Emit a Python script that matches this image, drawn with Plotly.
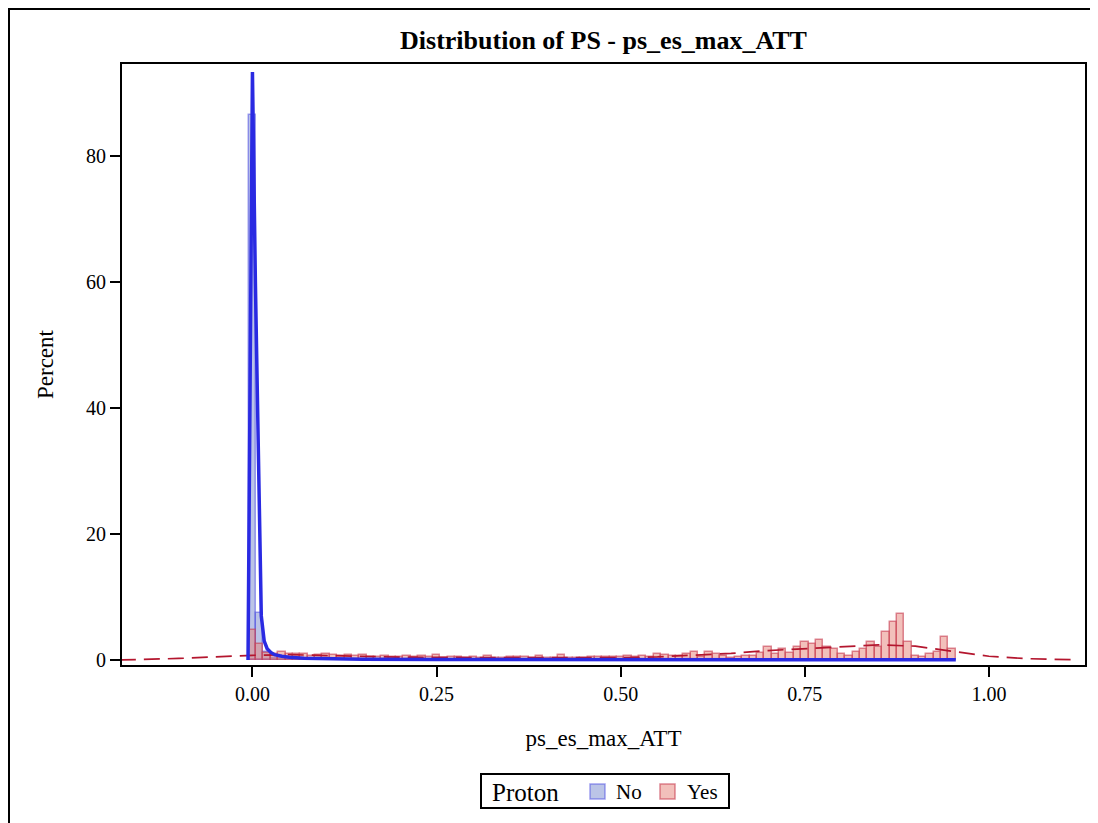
import plotly.graph_objects as go

# Histogram bins (width 0.01, centred on 0.00, 0.01, ... 0.95)
bin_width = 0.01
bin_centers = [round(i * bin_width, 2) for i in range(96)]

# Percent of patients per bin, Proton = No
pct_no = [86.5, 7.5, 1.2, 0.4, 0.3, 0.2, 0.15, 0.1, 0.1, 0.1] + [0.05] * 86

# Percent of patients per bin, Proton = Yes
pct_yes = [4.8, 2.5, 1.1, 0.9, 1.2, 0.9, 1.0, 1.0, 0.7, 0.85,
           0.9, 0.85, 0.7, 0.8, 0.6, 0.8, 0.55, 0.55, 0.6, 0.45,
           0.5, 0.7, 0.5, 0.7, 0.45, 0.8, 0.4, 0.45, 0.45, 0.4,
           0.45, 0.4, 0.6, 0.4, 0.35, 0.55, 0.5, 0.55, 0.4, 0.6,
           0.35, 0.4, 0.8, 0.35, 0.4, 0.3, 0.5, 0.5, 0.45, 0.5,
           0.55, 0.6, 0.55, 0.6, 0.5, 0.95, 0.8, 0.6, 0.6, 0.9,
           1.2, 0.5, 1.3, 0.9, 0.6, 0.4, 0.5, 0.7, 0.7, 1.1,
           2.0, 0.9, 1.7, 1.1, 2.0, 2.8, 2.6, 3.1, 2.1, 1.7,
           0.9, 0.7, 1.3, 1.7, 2.8, 2.1, 4.4, 6.0, 7.3, 2.8,
           0.7, 0.5, 0.9, 1.2, 3.6, 1.7]

# Kernel density, Proton = No
kde_no_x = [-0.006, 0.0, 0.004, 0.008, 0.012, 0.016, 0.02, 0.025, 0.03, 0.04,
            0.05, 0.07, 0.1, 0.15, 0.25, 0.4, 0.6, 0.8, 0.955]
kde_no_y = [0.0, 93.3, 60, 30, 7, 3.0, 1.8, 1.2, 0.85, 0.6,
            0.45, 0.3, 0.2, 0.12, 0.08, 0.05, 0.05, 0.05, 0.05]

# Kernel density, Proton = Yes
kde_yes_x = [-0.18, -0.15, -0.1, -0.05, 0.0, 0.05, 0.1, 0.15, 0.2, 0.3, 0.4, 0.5,
             0.55, 0.6, 0.65, 0.7, 0.75, 0.8, 0.85, 0.9, 0.95, 1.0, 1.05, 1.1, 1.12]
kde_yes_y = [0.0, 0.08, 0.25, 0.5, 0.75, 0.85, 0.75, 0.6, 0.45, 0.4, 0.36, 0.38,
             0.5, 0.75, 1.05, 1.5, 1.8, 2.15, 2.4, 2.2, 1.35, 0.6, 0.22, 0.06, 0.03]

x_ticks = [0.0, 0.25, 0.5, 0.75, 1.0]
x_labels = ["0.00", "0.25", "0.50", "0.75", "1.00"]
y_ticks = [0, 20, 40, 60, 80]

serif = "Liberation Serif, Times New Roman, serif"
no_fill, no_edge = "rgba(120,138,208,0.5)", "rgba(70,70,225,0.5)"
yes_fill, yes_edge = "rgba(230,130,120,0.5)", "rgba(200,60,80,0.6)"

# the page body adds an 8px offset, so everything below is in figure pixels
W, H = 1090, 815
L, R, T, B = 114, 13, 56, 158
pw, ph = W - L - R, H - T - B


def px(x):
    return (x - L) / pw


def py(y):
    return (H - B - y) / ph


fig = go.Figure()

fig.add_trace(go.Bar(x=bin_centers, y=pct_no, width=bin_width, name="No", showlegend=False,
                     marker=dict(color=no_fill, line=dict(color=no_edge, width=1.5))))
fig.add_trace(go.Bar(x=bin_centers, y=pct_yes, width=bin_width, name="Yes", showlegend=False,
                     marker=dict(color=yes_fill, line=dict(color=yes_edge, width=1.5))))
fig.add_trace(go.Scatter(x=kde_yes_x, y=kde_yes_y, mode="lines", showlegend=False,
                         line=dict(color="#b4162e", width=1.7, dash="16px,8px")))
fig.add_trace(go.Scatter(x=kde_no_x, y=kde_no_y, mode="lines", showlegend=False,
                         line=dict(color="#2a2ae2", width=3.5)))

# outer frame round the whole graph
fig.add_shape(type="rect", xref="paper", yref="paper",
              x0=px(1), x1=px(1085), y0=py(900), y1=py(1),
              line=dict(color="black", width=2))

# legend drawn by hand: box, two swatches and labels
fig.add_shape(type="rect", xref="paper", yref="paper",
              x0=px(473), x1=px(721), y0=py(800), y1=py(766),
              line=dict(color="black", width=2), fillcolor="white")
fig.add_shape(type="rect", xref="paper", yref="paper",
              x0=px(582), x1=px(597), y0=py(791), y1=py(776),
              line=dict(color=no_edge, width=1.5), fillcolor=no_fill)
fig.add_shape(type="rect", xref="paper", yref="paper",
              x0=px(652), x1=px(667), y0=py(791), y1=py(776),
              line=dict(color=yes_edge, width=1.5), fillcolor=yes_fill)
for text, left, size in [("Proton", 482, 25), ("No", 606, 21), ("Yes", 677, 21)]:
    fig.add_annotation(text=text, x=px(left), y=py(784), xref="paper", yref="paper",
                       xanchor="left", yanchor="middle", showarrow=False,
                       font=dict(size=size, family=serif, color="black"))

fig.update_layout(
    width=W, height=H,
    margin=dict(l=L, r=R, t=T, b=B, autoexpand=False),
    paper_bgcolor="white", plot_bgcolor="white",
    barmode="overlay", bargap=0, showlegend=False,
    font=dict(family=serif, color="black"),
    title=dict(text="<b>Distribution of PS - ps_es_max_ATT</b>", x=(L + pw / 2) / W,
               xanchor="center", y=1 - 32 / H, yanchor="middle", yref="container",
               font=dict(size=26, family=serif, color="black")),
    xaxis=dict(range=[-0.1771, 1.1304], tickvals=x_ticks, ticktext=x_labels,
               showgrid=False, zeroline=False, showline=True, linecolor="black",
               linewidth=2, mirror=True, ticks="outside", ticklen=10, tickwidth=2,
               tickcolor="black", tickfont=dict(size=20),
               title=dict(text="ps_es_max_ATT", font=dict(size=23), standoff=26)),
    yaxis=dict(range=[-0.79, 94.56], tickvals=y_ticks,
               showgrid=False, zeroline=False, showline=True, linecolor="black",
               linewidth=2, mirror=True, ticks="outside", ticklen=10, tickwidth=2,
               tickcolor="black", tickfont=dict(size=20),
               title=dict(text="Percent", font=dict(size=23), standoff=26)),
)

fig.write_html("out.html")
